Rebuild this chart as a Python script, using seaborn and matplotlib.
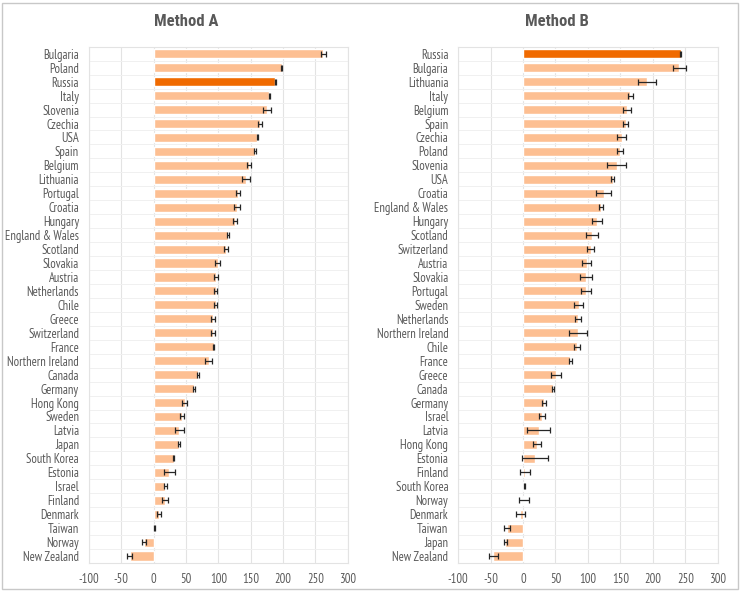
import numpy as np
import pandas as pd
import matplotlib
matplotlib.use("Agg")
import matplotlib.pyplot as plt
import seaborn as sns
from matplotlib.patches import Rectangle

# Method A (sorted as in the chart)
countries_a = ['Bulgaria', 'Poland', 'Russia', 'Italy', 'Slovenia', 'Czechia', 'USA', 'Spain',
               'Belgium', 'Lithuania', 'Portugal', 'Croatia', 'Hungary', 'England & Wales',
               'Scotland', 'Slovakia', 'Austria', 'Netherlands', 'Chile', 'Greece', 'Switzerland',
               'France', 'Northern Ireland', 'Canada', 'Germany', 'Hong Kong', 'Sweden', 'Latvia',
               'Japan', 'South Korea', 'Estonia', 'Israel', 'Finland', 'Denmark', 'Taiwan',
               'Norway', 'New Zealand']
values_a = [262, 198, 188, 179, 175, 165, 160, 157, 147, 143, 131, 129, 126, 115, 112, 99, 97,
            96, 96, 92, 92, 93, 85, 68, 63, 48, 44, 40, 39, 31, 24, 18, 18, 8, 1, -15, -37]
errors_a = [4, 1, 1, 1, 6, 3, 1, 1.5, 3, 6, 3, 5, 3, 1.5, 3, 3.5, 3, 2, 2, 3.5, 3, 1, 6, 1.5,
            1.5, 4, 3, 7.5, 1.5, 1, 8.5, 2.5, 4.5, 3, 1, 3, 3.5]

# Method B
countries_b = ['Russia', 'Bulgaria', 'Lithuania', 'Italy', 'Belgium', 'Spain', 'Czechia', 'Poland',
               'Slovenia', 'USA', 'Croatia', 'England & Wales', 'Hungary', 'Scotland',
               'Switzerland', 'Austria', 'Slovakia', 'Portugal', 'Sweden', 'Netherlands',
               'Northern Ireland', 'Chile', 'France', 'Greece', 'Canada', 'Germany', 'Israel',
               'Latvia', 'Hong Kong', 'Estonia', 'Finland', 'South Korea', 'Norway', 'Denmark',
               'Taiwan', 'Japan', 'New Zealand']
values_b = [243, 241, 191, 165, 160, 158, 152, 150, 144, 138, 124, 120, 114, 106, 104, 98, 97, 97,
            86, 85, 85, 83, 73, 51, 46, 33, 29, 24, 21, 18, 3, 2, 1, -4, -24, -27, -46]
errors_b = [1, 9.5, 14, 4, 6.5, 3.5, 6.5, 4.5, 14.5, 2, 11.5, 3.5, 7.5, 9, 5.5, 6.5, 9, 7, 7,
            4.5, 14, 4.5, 2, 8, 2, 3, 4.5, 18, 6, 20, 8, 1, 7.5, 7.5, 4.5, 2, 7]

highlight = 'Russia'
light = '#FDBF92'
dark = '#F06A00'
grey = '#595959'

sns.set_theme(style='white')
plt.rcParams['font.family'] = ['PT Sans Narrow', 'Roboto Condensed', 'Liberation Sans', 'DejaVu Sans']
plt.rcParams['axes.unicode_minus'] = False

fig = plt.figure(figsize=(7.4, 5.92), dpi=100)
ax_a = fig.add_axes([0.120, 0.049, 0.350, 0.872])
ax_b = fig.add_axes([0.619, 0.049, 0.351, 0.872])


def draw(ax, countries, values, errors):
    df = pd.DataFrame({'Country': countries, 'Value': values})
    pal = {c: (dark if c == highlight else light) for c in countries}
    sns.barplot(data=df, x='Value', y='Country', hue='Country', palette=pal,
                order=countries, legend=False, width=0.65, saturation=1, ax=ax)
    ax.errorbar(values, np.arange(len(countries)), xerr=errors, fmt='none',
                ecolor='#262626', elinewidth=0.9, capsize=2.5, capthick=0.9)
    ax.set_xlim(-100, 300)
    ax.set_xticks(np.arange(-100, 301, 50))
    ax.set_ylim(len(countries) - 0.5, -0.5)
    ax.set_yticks(np.arange(len(countries) + 1) - 0.5, minor=True)
    ax.grid(axis='x', color='#e3e3e3', linewidth=0.8)
    ax.grid(axis='y', which='minor', color='#f0f0f0', linewidth=0.7)
    ax.set_axisbelow(True)
    for s in ax.spines.values():
        s.set_color('#e3e3e3')
        s.set_linewidth(0.8)
    ax.tick_params(axis='both', which='both', length=0, labelsize=9, labelcolor=grey)
    ax.tick_params(axis='x', pad=7)
    ax.tick_params(axis='y', pad=7)
    ax.set_xlabel('')
    ax.set_ylabel('')


draw(ax_a, countries_a, values_a, errors_a)
draw(ax_b, countries_b, values_b, errors_b)

title_font = ['Roboto Condensed', 'Liberation Sans', 'DejaVu Sans']
fig.text(186 / 740, 1 - 21 / 592, 'Method A', ha='center', va='center', family=title_font,
         fontsize=12, fontweight='bold', color=grey)
fig.text(557 / 740, 1 - 21 / 592, 'Method B', ha='center', va='center', family=title_font,
         fontsize=12, fontweight='bold', color=grey)

fig.patches.append(Rectangle((0.003, 0.005), 0.994, 0.99, transform=fig.transFigure,
                             fill=False, edgecolor='#c8c8c8', linewidth=1))

fig.savefig('out.png', dpi=100)
